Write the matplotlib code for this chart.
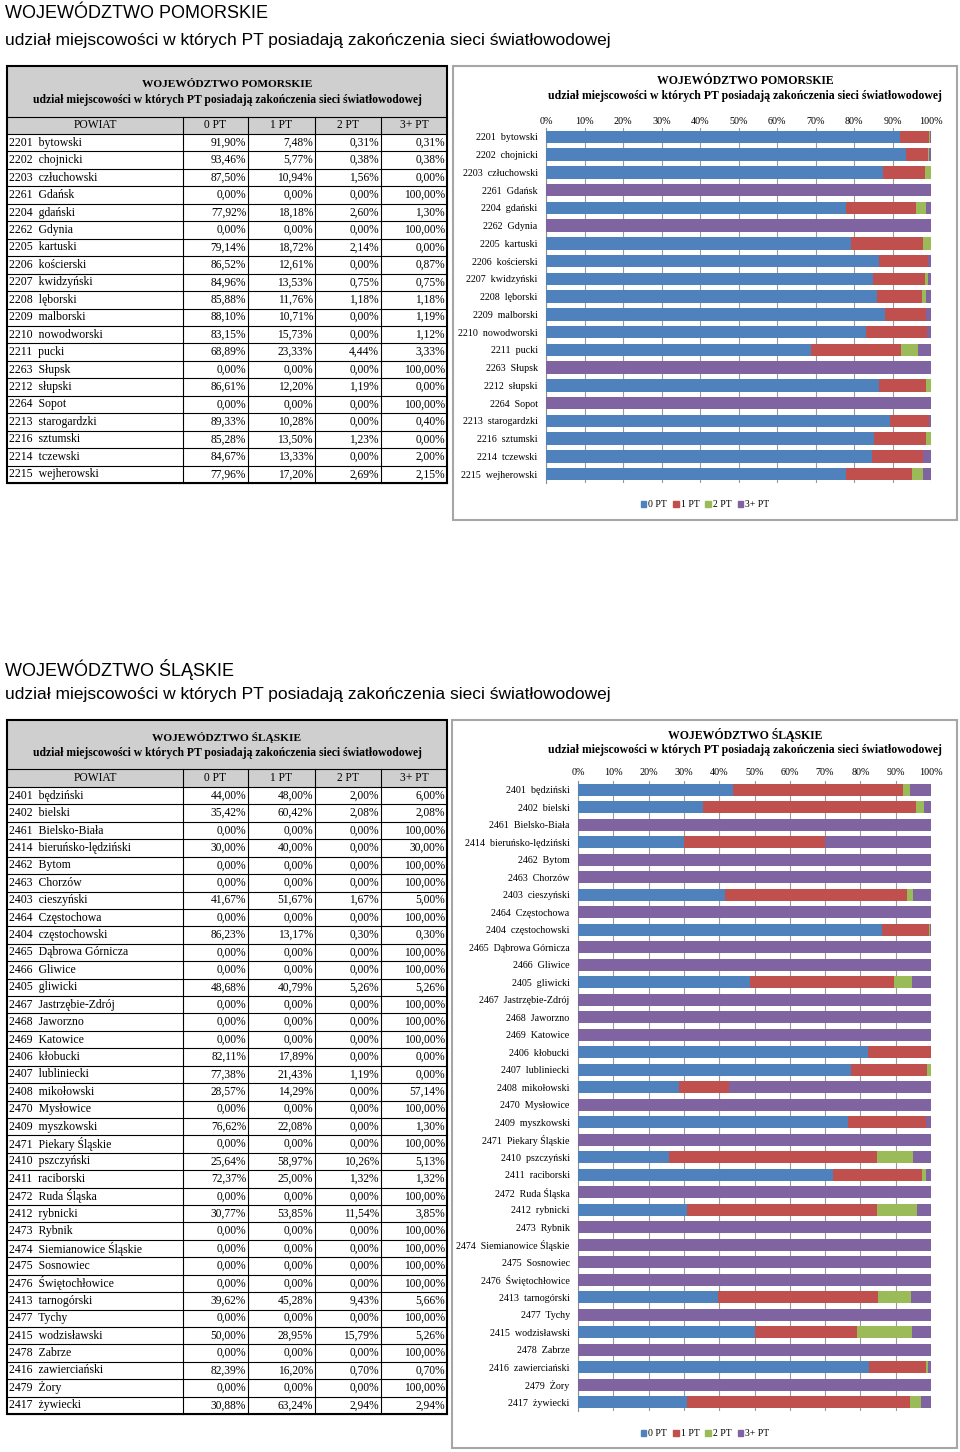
import matplotlib
matplotlib.use('Agg')
import matplotlib.pyplot as plt
from matplotlib.patches import Rectangle, Patch
import numpy as np

W, H = 960, 1452

# ---- data: województwo pomorskie
pom_powiat = ['2201 bytowski', '2202 chojnicki', '2203 człuchowski', '2261 Gdańsk',
              '2204 gdański', '2262 Gdynia', '2205 kartuski', '2206 kościerski',
              '2207 kwidzyński', '2208 lęborski', '2209 malborski', '2210 nowodworski',
              '2211 pucki', '2263 Słupsk', '2212 słupski', '2264 Sopot',
              '2213 starogardzki', '2216 sztumski', '2214 tczewski', '2215 wejherowski']
pom_0pt = [91.90, 93.46, 87.50, 0.00, 77.92, 0.00, 79.14, 86.52, 84.96, 85.88,
           88.10, 83.15, 68.89, 0.00, 86.61, 0.00, 89.33, 85.28, 84.67, 77.96]
pom_1pt = [7.48, 5.77, 10.94, 0.00, 18.18, 0.00, 18.72, 12.61, 13.53, 11.76,
           10.71, 15.73, 23.33, 0.00, 12.20, 0.00, 10.28, 13.50, 13.33, 17.20]
pom_2pt = [0.31, 0.38, 1.56, 0.00, 2.60, 0.00, 2.14, 0.00, 0.75, 1.18,
           0.00, 0.00, 4.44, 0.00, 1.19, 0.00, 0.00, 1.23, 0.00, 2.69]
pom_3pt = [0.31, 0.38, 0.00, 100.00, 1.30, 100.00, 0.00, 0.87, 0.75, 1.18,
           1.19, 1.12, 3.33, 100.00, 0.00, 100.00, 0.40, 0.00, 2.00, 2.15]

# ---- data: województwo śląskie
sl_powiat = ['2401 będziński', '2402 bielski', '2461 Bielsko-Biała', '2414 bieruńsko-lędziński',
             '2462 Bytom', '2463 Chorzów', '2403 cieszyński', '2464 Częstochowa',
             '2404 częstochowski', '2465 Dąbrowa Górnicza', '2466 Gliwice', '2405 gliwicki',
             '2467 Jastrzębie-Zdrój', '2468 Jaworzno', '2469 Katowice', '2406 kłobucki',
             '2407 lubliniecki', '2408 mikołowski', '2470 Mysłowice', '2409 myszkowski',
             '2471 Piekary Śląskie', '2410 pszczyński', '2411 raciborski', '2472 Ruda Śląska',
             '2412 rybnicki', '2473 Rybnik', '2474 Siemianowice Śląskie', '2475 Sosnowiec',
             '2476 Świętochłowice', '2413 tarnogórski', '2477 Tychy', '2415 wodzisławski',
             '2478 Zabrze', '2416 zawierciański', '2479 Żory', '2417 żywiecki']
sl_0pt = [44.00, 35.42, 0.00, 30.00, 0.00, 0.00, 41.67, 0.00, 86.23, 0.00, 0.00, 48.68,
          0.00, 0.00, 0.00, 82.11, 77.38, 28.57, 0.00, 76.62, 0.00, 25.64, 72.37, 0.00,
          30.77, 0.00, 0.00, 0.00, 0.00, 39.62, 0.00, 50.00, 0.00, 82.39, 0.00, 30.88]
sl_1pt = [48.00, 60.42, 0.00, 40.00, 0.00, 0.00, 51.67, 0.00, 13.17, 0.00, 0.00, 40.79,
          0.00, 0.00, 0.00, 17.89, 21.43, 14.29, 0.00, 22.08, 0.00, 58.97, 25.00, 0.00,
          53.85, 0.00, 0.00, 0.00, 0.00, 45.28, 0.00, 28.95, 0.00, 16.20, 0.00, 63.24]
sl_2pt = [2.00, 2.08, 0.00, 0.00, 0.00, 0.00, 1.67, 0.00, 0.30, 0.00, 0.00, 5.26,
          0.00, 0.00, 0.00, 0.00, 1.19, 0.00, 0.00, 0.00, 0.00, 10.26, 1.32, 0.00,
          11.54, 0.00, 0.00, 0.00, 0.00, 9.43, 0.00, 15.79, 0.00, 0.70, 0.00, 2.94]
sl_3pt = [6.00, 2.08, 100.00, 30.00, 100.00, 100.00, 5.00, 100.00, 0.30, 100.00, 100.00, 5.26,
          100.00, 100.00, 100.00, 0.00, 0.00, 57.14, 100.00, 1.30, 100.00, 5.13, 1.32, 100.00,
          3.85, 100.00, 100.00, 100.00, 100.00, 5.66, 100.00, 5.26, 100.00, 0.70, 100.00, 2.94]

SERIES = ['0 PT', '1 PT', '2 PT', '3+ PT']
COLORS = ['#4F81BD', '#C0504D', '#9BBB59', '#8064A2']
SUB = 'udział miejscowości w których PT posiadają zakończenia sieci światłowodowej'
SERIF = 'Liberation Serif'
SANS = 'Liberation Sans'

fig = plt.figure(figsize=(9.6, 14.52), dpi=100)
bg = fig.add_axes([0, 0, 1, 1])
bg.set_xlim(0, W)
bg.set_ylim(H, 0)
bg.axis('off')


def fig_box(x0, y0, x1, y1):
    return [x0 / W, 1 - y1 / H, (x1 - x0) / W, (y1 - y0) / H]


def pct(v):
    return f'{v:.2f}%'.replace('.', ',')


def label2(s):
    return s.replace(' ', '  ', 1)


#############
# table
#############
def draw_table(name, labels, cols, top, head_bot, col_bot, bot):
    xs = [7, 183, 248, 315, 381, 447]
    n = len(labels)
    bg.add_patch(Rectangle((xs[0], top), xs[-1] - xs[0], col_bot - top, fc='#CFCFCF', ec='none'))
    hm = (top + head_bot) / 2
    bg.text((xs[0] + xs[-1]) / 2, hm - 7, name, ha='center', va='center',
            family=SERIF, fontsize=8.2, weight='bold')
    bg.text((xs[0] + xs[-1]) / 2, hm + 8.5, SUB, ha='center', va='center',
            family=SERIF, fontsize=8.4, weight='bold')
    heads = ['POWIAT'] + SERIES
    for j, h in enumerate(heads):
        bg.text((xs[j] + xs[j + 1]) / 2, (head_bot + col_bot) / 2, h, ha='center', va='center',
                family=SERIF, fontsize=8.3)
    rh = (bot - col_bot) / n
    for i in range(n):
        yc = col_bot + rh * (i + 0.5)
        bg.text(xs[0] + 2, yc, label2(labels[i]), ha='left', va='center', family=SERIF, fontsize=8.5)
        for j in range(4):
            bg.text(xs[j + 2] - 2, yc, pct(cols[j][i]), ha='right', va='center',
                    family=SERIF, fontsize=8.3)
    # lines
    for i in range(n + 1):
        yy = col_bot + rh * i
        bg.plot([xs[0], xs[-1]], [yy, yy], color='black', lw=0.8)
    bg.plot([xs[0], xs[-1]], [head_bot, head_bot], color='black', lw=0.8)
    for x in xs[1:-1]:
        bg.plot([x, x], [head_bot, bot], color='black', lw=0.8)
    bg.add_patch(Rectangle((xs[0], top), xs[-1] - xs[0], bot - top, fill=False, ec='black', lw=1.5))


#############
# chart
#############
def draw_chart(name, labels, cols, box, plot, legend_y, tick_pad):
    bg.add_patch(Rectangle((box[0], box[1]), box[2] - box[0], box[3] - box[1],
                           fill=False, ec='#A6A6A6', lw=1.5))
    bg.text(745, box[1] + 15, name, ha='center', va='center', family=SERIF, fontsize=8.5, weight='bold')
    bg.text(745, box[1] + 30, SUB, ha='center', va='center', family=SERIF, fontsize=8.5, weight='bold')

    ax = fig.add_axes(fig_box(*plot))
    y = np.arange(len(labels))
    left = np.zeros(len(labels))
    for vals, c, s in zip(cols, COLORS, SERIES):
        ax.barh(y, vals, left=left, height=0.7, color=c, label=s, zorder=3)
        left += np.array(vals)
    ax.set_xlim(0, 100)
    ax.set_ylim(len(labels) - 0.5, -0.5)
    ax.set_xticks(np.arange(0, 101, 10))
    ax.set_xticklabels([f'{v}%' for v in range(0, 101, 10)], family=SERIF, fontsize=7.3)
    ax.xaxis.tick_top()
    ax.tick_params(axis='x', length=0, pad=tick_pad)
    ax.set_yticks(y)
    ax.set_yticklabels([label2(l) for l in labels], family=SERIF, fontsize=7.2)
    ax.tick_params(axis='y', length=0, pad=6)
    ax.xaxis.grid(True, color='#999999', lw=0.8, zorder=0)
    ax.set_axisbelow(True)
    for sp in ['top', 'right', 'bottom']:
        ax.spines[sp].set_visible(False)
    ax.spines['left'].set_color('#8C8C8C')

    handles = [Patch(color=c, label=s) for c, s in zip(COLORS, SERIES)]
    fig.legend(handles=handles, loc='center', bbox_to_anchor=(705 / W, 1 - legend_y / H), ncol=4,
               frameon=False, prop={'family': SERIF, 'size': 7}, handlelength=0.6, handleheight=0.6,
               handletextpad=0.2, columnspacing=0.6)


# POMORSKIE
bg.text(5, 14, 'WOJEWÓDZTWO POMORSKIE', ha='left', va='center', family=SANS, fontsize=13)
bg.text(5, 40, SUB, ha='left', va='center', family=SANS, fontsize=12.5)
draw_table('WOJEWÓDZTWO POMORSKIE', pom_powiat, [pom_0pt, pom_1pt, pom_2pt, pom_3pt],
           66, 117, 134, 483)
draw_chart('WOJEWÓDZTWO POMORSKIE', pom_powiat, [pom_0pt, pom_1pt, pom_2pt, pom_3pt],
           (453, 66, 957, 520), (546, 128, 931, 483), 505, 1.5)

# ŚLĄSKIE
bg.text(5, 670, 'WOJEWÓDZTWO ŚLĄSKIE', ha='left', va='center', family=SANS, fontsize=13)
bg.text(5, 695, SUB, ha='left', va='center', family=SANS, fontsize=12.5)
draw_table('WOJEWÓDZTWO ŚLĄSKIE', sl_powiat, [sl_0pt, sl_1pt, sl_2pt, sl_3pt],
           720, 769, 787, 1414)
draw_chart('WOJEWÓDZTWO ŚLĄSKIE', sl_powiat, [sl_0pt, sl_1pt, sl_2pt, sl_3pt],
           (452, 720, 957, 1448), (578, 781, 931, 1411), 1434, 3)

fig.savefig('out.png', dpi=100)
